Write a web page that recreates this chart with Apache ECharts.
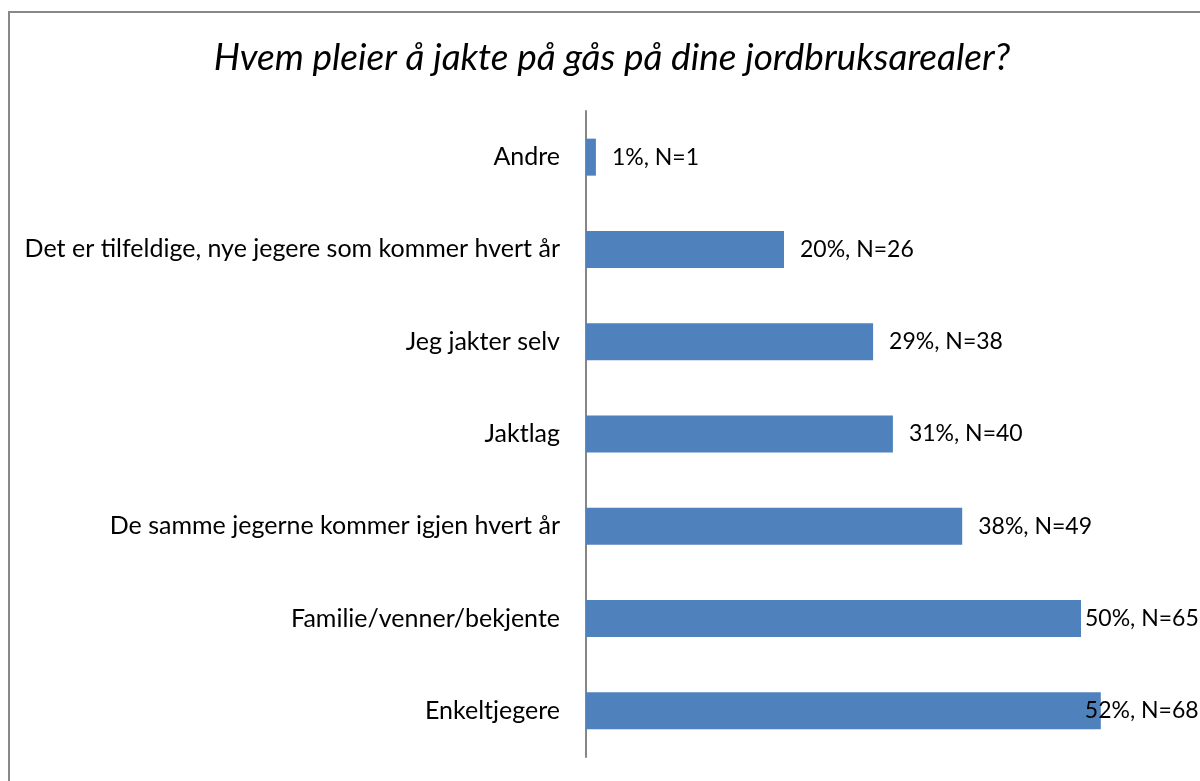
<!DOCTYPE html>
<html>
<head>
<meta charset="utf-8">
<script src="https://cdn.jsdelivr.net/npm/echarts@6/dist/echarts.min.js"></script>
<style>
  html, body { margin: 0; padding: 0; background: #fff; }
  #chart { width: 1200px; height: 781px; }
</style>
</head>
<body>
<div id="chart"></div>
<script>
const categories = [
    'Andre',
    'Det er tilfeldige, nye jegere som kommer hvert år',
    'Jeg jakter selv',
    'Jaktlag',
    'De samme jegerne kommer igjen hvert år',
    'Familie/venner/bekjente',
    'Enkeltjegere'
];
const percents = [1, 20, 29, 31, 38, 50, 52];
const counts = [1, 26, 38, 40, 49, 65, 68];

// labels that run into the plot edge get pulled back (like the original)
const labelShift = { 5: -12, 6: -32 };

const chart = echarts.init(document.getElementById('chart'));

const barData = percents.map((v, i) => {
    const item = { value: v };
    if (labelShift[i] !== undefined) {
        item.label = { offset: [labelShift[i], 0] };
    }
    return item;
});

chart.setOption({
    animation: false,
    textStyle: { fontFamily: 'Lato' },
    title: {
        text: 'Hvem pleier å jakte på gås på dine jordbruksarealer?',
        left: 607,
        textAlign: 'center',
        top: 35,
        textStyle: {
            fontFamily: 'Lato',
            fontStyle: 'italic',
            fontWeight: 'normal',
            fontSize: 37,
            color: '#000'
        }
    },
    graphic: [{
        type: 'rect',
        shape: { x: 9, y: 12, width: 1400, height: 1000 },
        style: { fill: 'none', stroke: '#888888', lineWidth: 2 },
        silent: true
    }],
    grid: {
        left: 586,
        right: 20,
        top: 111,
        bottom: 24
    },
    xAxis: {
        type: 'value',
        min: 0,
        max: 60,
        show: false
    },
    yAxis: {
        type: 'category',
        data: categories,
        inverse: true,
        axisLine: { lineStyle: { color: '#868686', width: 2 } },
        axisTick: { show: false },
        axisLabel: {
            color: '#000',
            fontSize: 25,
            fontFamily: 'Lato',
            margin: 26
        }
    },
    series: [{
        type: 'bar',
        data: barData,
        barWidth: 37,
        itemStyle: { color: '#4F81BD' },
        label: {
            show: true,
            position: 'right',
            distance: 16,
            color: '#000',
            fontSize: 23,
            fontFamily: 'Lato',
            formatter: p => `${percents[p.dataIndex]}%, N=${counts[p.dataIndex]}`
        }
    }]
});
</script>
</body>
</html>
